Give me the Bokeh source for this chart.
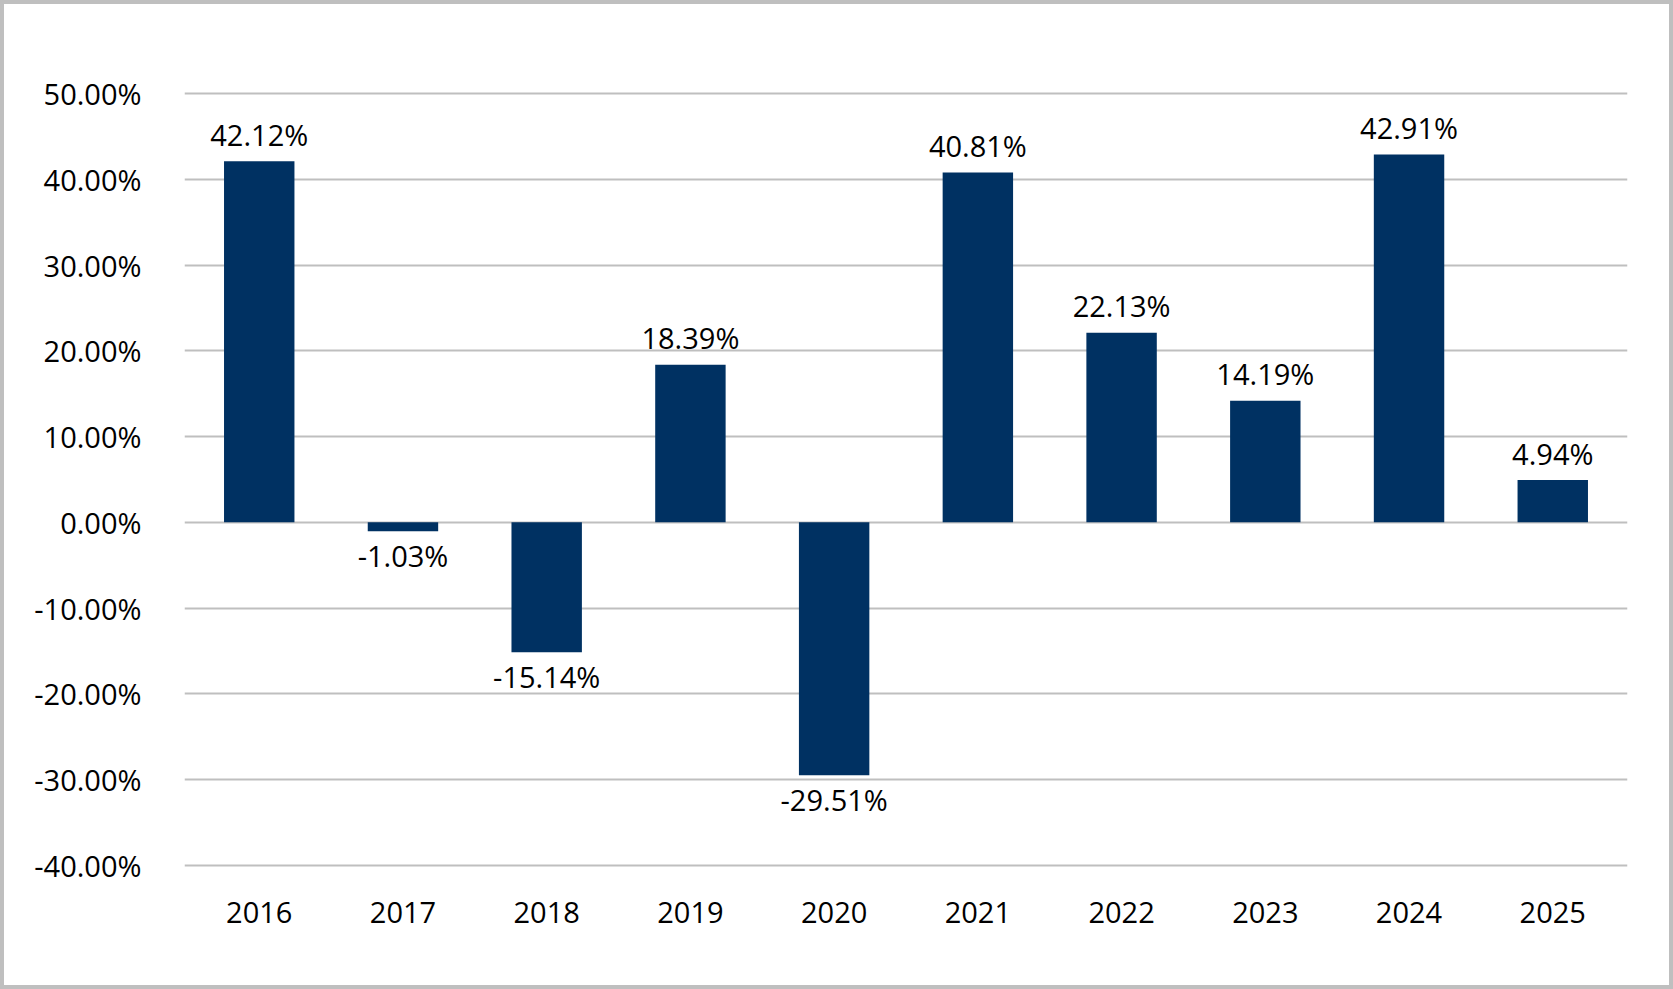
from bokeh.plotting import figure
from bokeh.models import ColumnDataSource, FactorRange, Range1d, FixedTicker, PrintfTickFormatter
from bokeh.embed import file_html
from bokeh.resources import INLINE
from bokeh.core.properties import value

years = ["2016", "2017", "2018", "2019", "2020", "2021", "2022", "2023", "2024", "2025"]
returns = [42.12, -1.03, -15.14, 18.39, -29.51, 40.81, 22.13, 14.19, 42.91, 4.94]
y_ticks = [-40, -30, -20, -10, 0, 10, 20, 30, 40, 50]

FONT = "Open Sans"
FS = "29px"
BAR = "#003162"

labels = [f"{v:.2f}%" for v in returns]
offsets = [-27 if v >= 0 else 24 for v in returns]
src = ColumnDataSource(dict(x=years, top=returns, label=labels, yoff=offsets))

p = figure(
    width=1673, height=989,
    x_range=FactorRange(*years, range_padding=0.02, range_padding_units="absolute"),
    y_range=Range1d(-40.5, 50.5),
    output_backend="svg", toolbar_location=None,
    min_border_left=180, min_border_right=50, min_border_top=85, min_border_bottom=124,
    background_fill_color="white", border_fill_color="white",
    styles={"border": "4px solid #BFBFBF", "box-sizing": "border-box"},
)
p.outline_line_color = None

p.vbar(x="x", top="top", bottom=0, width=0.49, source=src, fill_color=BAR, line_color=None)
p.text(x="x", y="top", text="label", y_offset="yoff", source=src,
       text_align="center", text_baseline="alphabetic",
       text_font=value(FONT), text_font_size=FS, text_color="#000000")

p.xgrid.visible = False
p.ygrid.ticker = FixedTicker(ticks=y_ticks)
p.ygrid.grid_line_color = "#BFBFBF"
p.ygrid.grid_line_width = 2

p.yaxis.ticker = FixedTicker(ticks=y_ticks)
p.yaxis.formatter = PrintfTickFormatter(format="%.2f%%")
for ax in (p.xaxis, p.yaxis):
    ax.axis_line_color = None
    ax.major_tick_line_color = None
    ax.minor_tick_line_color = None
    ax.major_label_text_font = FONT
    ax.major_label_text_font_size = FS
    ax.major_label_text_color = "#000000"
p.yaxis.major_label_standoff = 37
p.xaxis.major_label_standoff = 26

open("out.html", "w").write(file_html(p, INLINE))
